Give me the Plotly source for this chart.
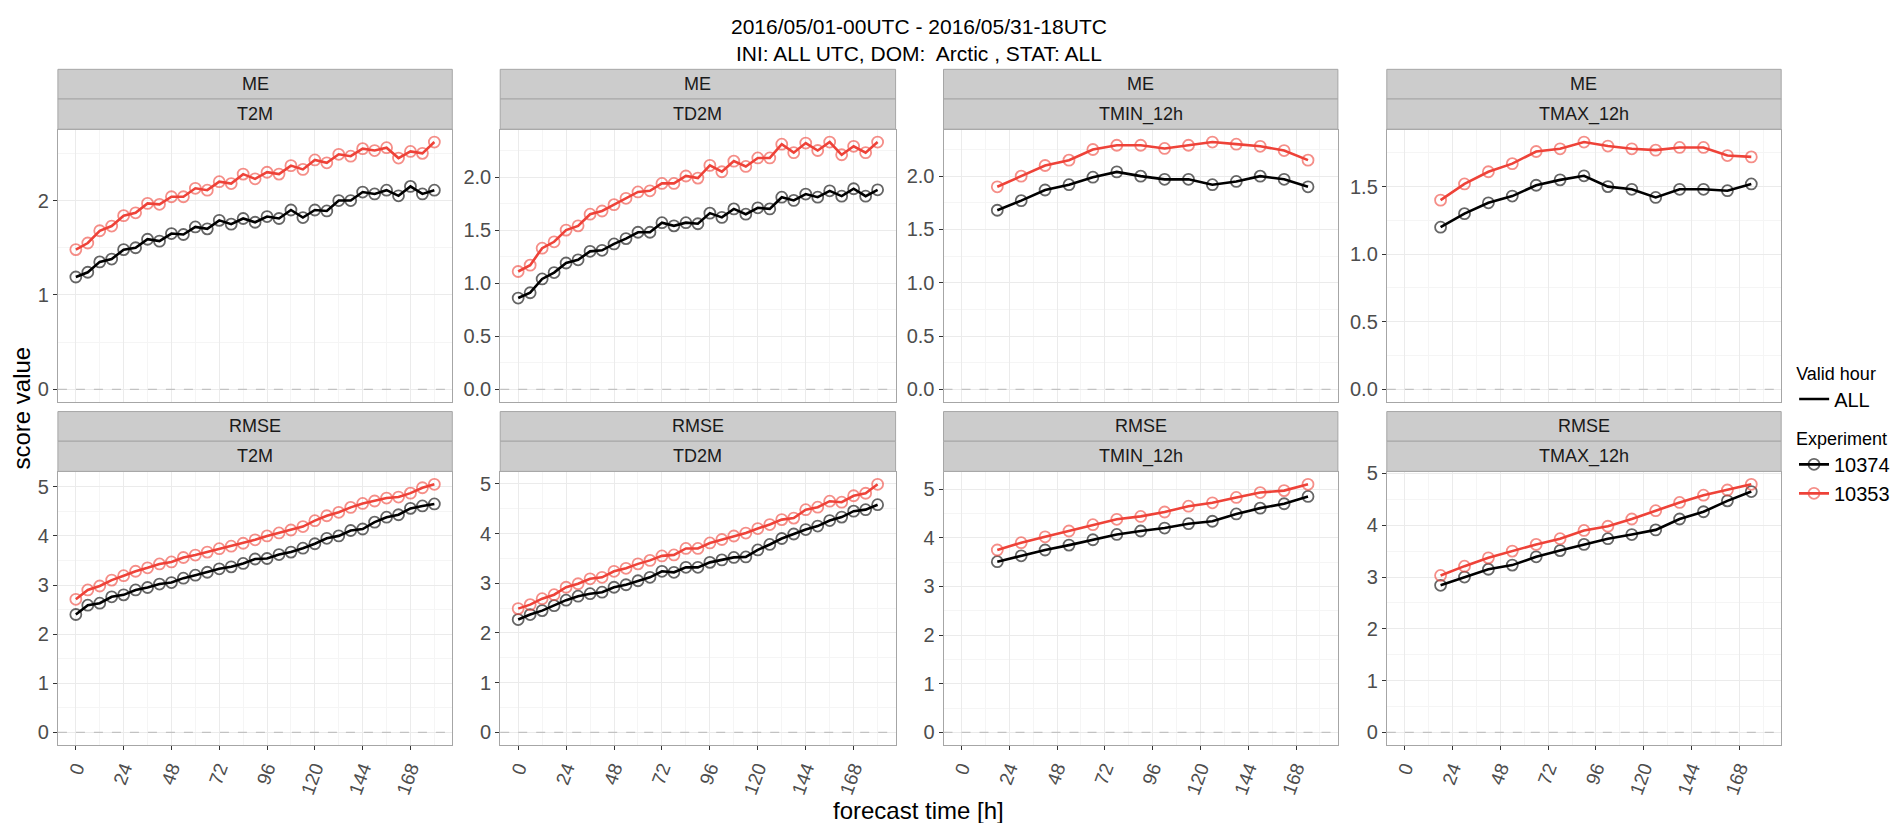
import plotly.graph_objects as go

W, H = 1895, 823

# ---------------- data ----------------
LEAD_6H = [0, 6, 12, 18, 24, 30, 36, 42, 48, 54, 60, 66, 72, 78, 84, 90,
           96, 102, 108, 114, 120, 126, 132, 138, 144, 150, 156, 162, 168, 174, 180]
LEAD_12H = [18, 30, 42, 54, 66, 78, 90, 102, 114, 126, 138, 150, 162, 174]

SCORES = ["ME", "RMSE"]
VARIABLES = ["T2M", "TD2M", "TMIN_12h", "TMAX_12h"]
EXPERIMENTS = ["10374", "10353"]
EXP_COLORS = ["#000000", "#EE4238"]

X_TICKS = [0, 24, 48, 72, 96, 120, 144, 168]
X_TICK_LABELS = ["0", "24", "48", "72", "96", "120", "144", "168"]

# y tick steps / label formats per panel (ME row, RMSE row)
Y_TICK_STEP = {"ME": [1.0, 0.5, 0.5, 0.5], "RMSE": [1.0, 1.0, 1.0, 1.0]}
Y_TICK_FMT = {"ME": [".0f", ".1f", ".1f", ".1f"], "RMSE": [".0f", ".0f", ".0f", ".0f"]}

me_t2m_10374 = [1.19, 1.24, 1.35, 1.38, 1.48, 1.50, 1.59, 1.57, 1.65, 1.64, 1.72, 1.70, 1.79, 1.75, 1.81, 1.77,
                1.83, 1.81, 1.90, 1.82, 1.90, 1.89, 2.00, 2.00, 2.09, 2.07, 2.11, 2.05, 2.15, 2.07, 2.11]
me_t2m_10353 = [1.48, 1.55, 1.68, 1.73, 1.84, 1.87, 1.97, 1.96, 2.04, 2.04, 2.13, 2.11, 2.20, 2.18, 2.28, 2.23,
                2.30, 2.28, 2.37, 2.33, 2.43, 2.40, 2.49, 2.47, 2.55, 2.53, 2.56, 2.45, 2.52, 2.50, 2.62]
me_td2m_10374 = [0.86, 0.91, 1.04, 1.10, 1.19, 1.22, 1.30, 1.31, 1.37, 1.42, 1.48, 1.48, 1.57, 1.54, 1.57, 1.56,
                 1.66, 1.62, 1.70, 1.65, 1.71, 1.70, 1.81, 1.78, 1.84, 1.81, 1.87, 1.82, 1.89, 1.82, 1.88]
me_td2m_10353 = [1.11, 1.17, 1.33, 1.39, 1.50, 1.54, 1.65, 1.68, 1.74, 1.80, 1.86, 1.87, 1.94, 1.94, 2.01, 1.99,
                 2.11, 2.05, 2.15, 2.10, 2.18, 2.18, 2.31, 2.23, 2.32, 2.25, 2.33, 2.21, 2.29, 2.23, 2.33]
me_tmin_10374 = [1.68, 1.77, 1.87, 1.92, 1.99, 2.04, 2.00, 1.97, 1.97, 1.92, 1.95, 2.00, 1.97, 1.90]
me_tmin_10353 = [1.90, 2.00, 2.10, 2.15, 2.25, 2.29, 2.29, 2.26, 2.29, 2.32, 2.30, 2.28, 2.24, 2.15]
me_tmax_10374 = [1.20, 1.30, 1.38, 1.43, 1.51, 1.55, 1.58, 1.50, 1.48, 1.42, 1.48, 1.48, 1.47, 1.52]
me_tmax_10353 = [1.40, 1.52, 1.61, 1.67, 1.76, 1.78, 1.83, 1.80, 1.78, 1.77, 1.79, 1.79, 1.73, 1.72]

rmse_t2m_10374 = [2.40, 2.59, 2.63, 2.76, 2.80, 2.90, 2.95, 3.02, 3.05, 3.14, 3.20, 3.26, 3.33, 3.37, 3.44, 3.53,
                  3.54, 3.62, 3.67, 3.75, 3.84, 3.95, 4.00, 4.11, 4.14, 4.28, 4.38, 4.43, 4.56, 4.61, 4.65]
rmse_t2m_10353 = [2.71, 2.90, 2.98, 3.10, 3.19, 3.28, 3.35, 3.43, 3.47, 3.56, 3.61, 3.67, 3.74, 3.79, 3.85, 3.92,
                  4.00, 4.06, 4.12, 4.19, 4.31, 4.41, 4.48, 4.58, 4.66, 4.71, 4.77, 4.79, 4.87, 4.98, 5.05]
rmse_td2m_10374 = [2.27, 2.37, 2.45, 2.55, 2.66, 2.74, 2.79, 2.82, 2.92, 2.97, 3.05, 3.12, 3.24, 3.22, 3.32, 3.32,
                   3.42, 3.47, 3.52, 3.53, 3.67, 3.78, 3.90, 3.99, 4.08, 4.15, 4.26, 4.33, 4.45, 4.48, 4.58]
rmse_td2m_10353 = [2.49, 2.57, 2.69, 2.77, 2.92, 2.99, 3.09, 3.12, 3.24, 3.30, 3.39, 3.46, 3.55, 3.57, 3.70, 3.70,
                   3.81, 3.88, 3.95, 4.01, 4.10, 4.18, 4.28, 4.31, 4.48, 4.53, 4.65, 4.63, 4.76, 4.81, 4.99]
rmse_tmin_10374 = [3.51, 3.63, 3.75, 3.85, 3.96, 4.07, 4.14, 4.20, 4.29, 4.34, 4.49, 4.61, 4.70, 4.85]
rmse_tmin_10353 = [3.75, 3.90, 4.02, 4.14, 4.27, 4.38, 4.44, 4.53, 4.65, 4.72, 4.83, 4.93, 4.97, 5.10]
rmse_tmax_10374 = [2.84, 3.00, 3.15, 3.23, 3.39, 3.51, 3.63, 3.74, 3.82, 3.91, 4.12, 4.26, 4.47, 4.65]
rmse_tmax_10353 = [3.03, 3.21, 3.37, 3.50, 3.63, 3.74, 3.90, 3.98, 4.12, 4.28, 4.44, 4.58, 4.68, 4.79]

PANEL_DATA = {
    ("ME", "T2M"): (LEAD_6H, [me_t2m_10374, me_t2m_10353]),
    ("ME", "TD2M"): (LEAD_6H, [me_td2m_10374, me_td2m_10353]),
    ("ME", "TMIN_12h"): (LEAD_12H, [me_tmin_10374, me_tmin_10353]),
    ("ME", "TMAX_12h"): (LEAD_12H, [me_tmax_10374, me_tmax_10353]),
    ("RMSE", "T2M"): (LEAD_6H, [rmse_t2m_10374, rmse_t2m_10353]),
    ("RMSE", "TD2M"): (LEAD_6H, [rmse_td2m_10374, rmse_td2m_10353]),
    ("RMSE", "TMIN_12h"): (LEAD_12H, [rmse_tmin_10374, rmse_tmin_10353]),
    ("RMSE", "TMAX_12h"): (LEAD_12H, [rmse_tmax_10374, rmse_tmax_10353]),
}

# ---------------- layout geometry (pixels) ----------------
FONT = "Liberation Sans, Arial, Helvetica, sans-serif"
COL_X = [(58, 453), (501, 897), (945, 1340), (1389, 1784)]
ROW = {
    "ME": {"strip1": (61, 91), "strip2": (91, 121.5), "plot": (122, 397)},
    "RMSE": {"strip1": (407, 437), "strip2": (437, 467.5), "plot": (468, 744)},
}


def px_x(p):
    return p / W


def px_y(p):
    return 1 - p / H


fig = go.Figure()
layout_axes = {}
shapes = []
annotations = []

X_RANGE = [-9, 189]
idx = 0
for r, score in enumerate(SCORES):
    for c, var in enumerate(VARIABLES):
        idx += 1
        xa = "x" if idx == 1 else f"x{idx}"
        ya = "y" if idx == 1 else f"y{idx}"
        xkey = "xaxis" if idx == 1 else f"xaxis{idx}"
        ykey = "yaxis" if idx == 1 else f"yaxis{idx}"
        lead, series = PANEL_DATA[(score, var)]

        for e, (exp, col) in enumerate(zip(EXPERIMENTS, EXP_COLORS)):
            rgb = col.lstrip("#")
            rr, gg, bb = int(rgb[0:2], 16), int(rgb[2:4], 16), int(rgb[4:6], 16)
            fig.add_trace(go.Scatter(
                x=lead, y=series[e], xaxis=xa, yaxis=ya,
                mode="lines+markers", name=exp,
                line=dict(color=col, width=2.6),
                marker=dict(symbol="circle-open", size=11,
                            color=f"rgba({rr},{gg},{bb},0.6)",
                            line=dict(width=1.8)),
                legend="legend2", legendgroup=exp,
                showlegend=(idx == 1),
            ))

        allv = series[0] + series[1]
        lo, hi = min(0, min(allv)), max(allv)
        pad = 0.05 * (hi - lo)
        step = Y_TICK_STEP[score][c]

        x0, x1 = COL_X[c]
        p0, p1 = ROW[score]["plot"]
        bottom = score == "RMSE"
        layout_axes[xkey] = dict(
            domain=[px_x(x0), px_x(x1)], anchor=ya, range=X_RANGE,
            tickmode="array", tickvals=X_TICKS, ticktext=X_TICK_LABELS,
            showticklabels=bottom, ticks="outside" if bottom else "",
            ticklen=4, tickcolor="#333333", tickwidth=1,
            tickangle=-70, tickfont=dict(family=FONT, size=19, color="#4d4d4d"),
            showgrid=True, gridcolor="#ebebeb", gridwidth=1,
            minor=dict(dtick=12, tick0=0, showgrid=True, gridcolor="#f5f5f5", gridwidth=1),
            showline=True, linecolor="#a6a6a6", linewidth=1, mirror=True,
            zeroline=False,
        )
        layout_axes[ykey] = dict(
            domain=[px_y(p1), px_y(p0)], anchor=xa, range=[lo - pad, hi + pad],
            tick0=0, dtick=step, tickformat=Y_TICK_FMT[score][c],
            ticks="outside", ticklen=4, tickcolor="#333333", tickwidth=1,
            tickfont=dict(family=FONT, size=20, color="#4d4d4d"),
            showgrid=True, gridcolor="#ebebeb", gridwidth=1,
            minor=dict(dtick=step / 2, tick0=0, showgrid=True, gridcolor="#f5f5f5", gridwidth=1),
            showline=True, linecolor="#a6a6a6", linewidth=1, mirror=True,
            zeroline=False,
        )
        # dashed zero reference line
        shapes.append(dict(type="line", xref=f"{xa} domain", yref=ya,
                           x0=0, x1=1, y0=0, y1=0,
                           line=dict(color="#c2c2c2", width=1.3, dash="dash"), layer="above"))
        # strips
        for key, label in (("strip1", score), ("strip2", var)):
            s0, s1 = ROW[score][key]
            shapes.append(dict(type="rect", xref="paper", yref="paper",
                               x0=px_x(x0), x1=px_x(x1), y0=px_y(s1), y1=px_y(s0),
                               fillcolor="#cccccc", line=dict(color="#a6a6a6", width=1)))
            annotations.append(dict(text=label, xref="paper", yref="paper",
                                    x=px_x((x0 + x1) / 2), y=px_y((s0 + s1) / 2),
                                    xanchor="center", yanchor="middle", showarrow=False,
                                    font=dict(family=FONT, size=18, color="#1a1a1a")))

# "Valid hour" legend entry
fig.add_trace(go.Scatter(x=[None], y=[None], mode="lines", name="ALL",
                         line=dict(color="#000000", width=2.6), legend="legend",
                         showlegend=True))

# titles
annotations.append(dict(text="2016/05/01-00UTC - 2016/05/31-18UTC<br>INI: ALL UTC, DOM:  Arctic , STAT: ALL",
                        xref="paper", yref="paper", x=px_x(920), y=px_y(31),
                        xanchor="center", yanchor="middle", showarrow=False, align="center",
                        font=dict(family=FONT, size=21, color="#000000")))
annotations.append(dict(text="score value", xref="paper", yref="paper",
                        x=px_x(22), y=px_y(403), textangle=-90,
                        xanchor="center", yanchor="middle", showarrow=False,
                        font=dict(family=FONT, size=24, color="#000000")))
annotations.append(dict(text="forecast time [h]", xref="paper", yref="paper",
                        x=px_x(920), y=px_y(810),
                        xanchor="center", yanchor="middle", showarrow=False,
                        font=dict(family=FONT, size=24, color="#000000")))

fig.update_layout(
    width=W, height=H, autosize=False,
    margin=dict(l=0, r=0, t=0, b=0),
    paper_bgcolor="white", plot_bgcolor="white",
    font=dict(family=FONT),
    shapes=shapes, annotations=annotations,
    legend=dict(x=px_x(1797), y=px_y(351), xanchor="left", yanchor="top",
                title=dict(text="Valid hour", font=dict(family=FONT, size=18, color="#000")),
                font=dict(family=FONT, size=20, color="#000"),
                bgcolor="rgba(0,0,0,0)", itemwidth=30, tracegroupgap=0),
    legend2=dict(x=px_x(1797), y=px_y(417), xanchor="left", yanchor="top",
                 title=dict(text="Experiment", font=dict(family=FONT, size=18, color="#000")),
                 font=dict(family=FONT, size=20, color="#000"),
                 bgcolor="rgba(0,0,0,0)", itemwidth=30, tracegroupgap=0),
    **layout_axes,
)

fig.write_html("out.html", config={"displayModeBar": False},
               post_script="document.body.style.margin='0';document.body.style.overflow='hidden';")
